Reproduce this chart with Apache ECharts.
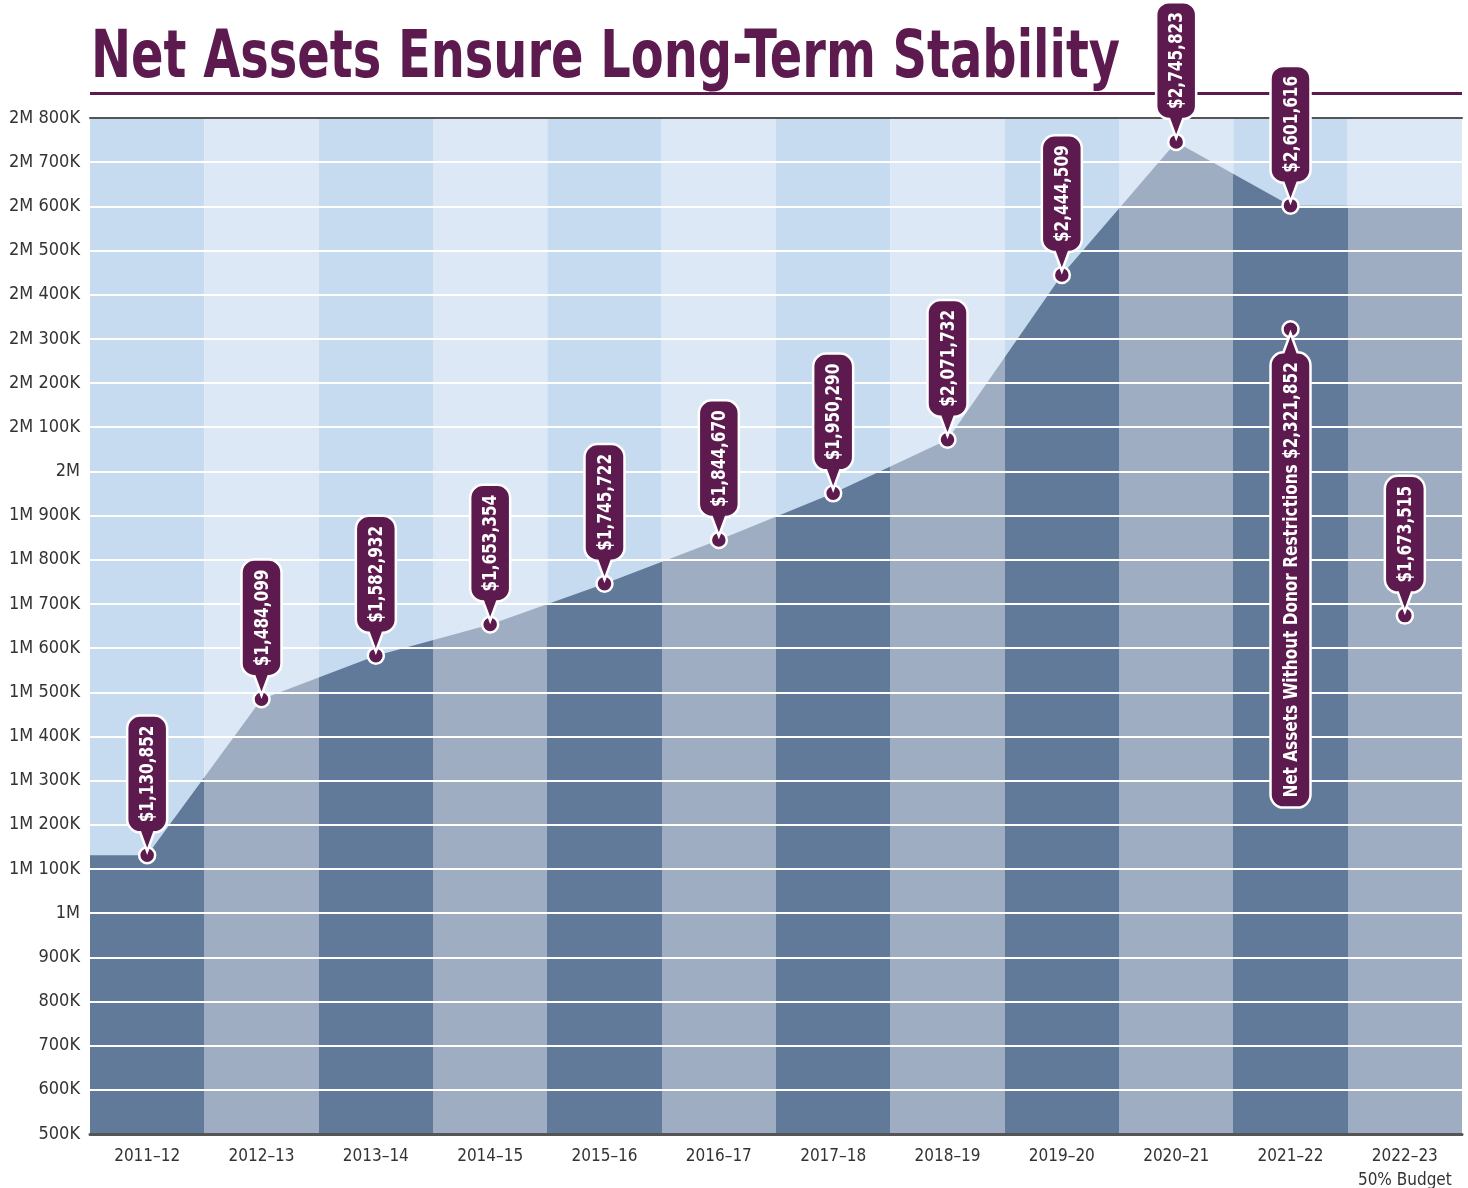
<!DOCTYPE html>
<html>
<head>
<meta charset="utf-8">
<script src="https://cdn.jsdelivr.net/npm/echarts@6/dist/echarts.min.js"></script>
<style>
    html, body { margin: 0; background: #fff; }
    #chart { width: 1468px; height: 1188px; }
</style>
</head>
<body>
<div id="chart"></div>
<script>
    const categories = ['2011–12', '2012–13', '2013–14', '2014–15', '2015–16', '2016–17',
        '2017–18', '2018–19', '2019–20', '2020–21', '2021–22', '2022–23\n50% Budget'];
    // net assets per fiscal year (last one is the 50% budget figure)
    const netAssets = [1130852, 1484099, 1582932, 1653354, 1745722, 1844670,
        1950290, 2071732, 2444509, 2745823, 2601616, 1673515];
    const unrestrictedIndex = 10;
    const unrestrictedValue = 2321852;
    const unrestrictedLabel = 'Net Assets Without Donor Restrictions';
    const yMin = 500000;
    const yMax = 2800000;
    const yStep = 100000;

    const PURPLE = '#5c1a4e';
    const NARROW = '"Liberation Sans Narrow", "DejaVu Sans Condensed", sans-serif';
    const pinFont = 'bold 20px ' + NARROW;
    const pinSquash = 0.85;

    function money(v) {
        return '$' + v.toLocaleString('en-US');
    }

    function yLabel(v) {
        const m = Math.floor(v / 1e6);
        const k = Math.round((v - m * 1e6) / 1000);
        if (!m) return k + 'K';
        return k ? m + 'M ' + k + 'K' : m + 'M';
    }

    const ctx = document.createElement('canvas').getContext('2d');
    function textLen(t) {
        ctx.font = pinFont;
        return ctx.measureText(t).width * pinSquash;
    }

    // area follows the actual years, held flat across the budget column
    const areaData = [[-0.5, netAssets[0]]];
    for (let i = 0; i <= unrestrictedIndex; i++) {
        areaData.push([i, netAssets[i]]);
    }
    areaData.push([categories.length - 0.5, netAssets[unrestrictedIndex]]);

    // [x, value, text, direction]  direction 1 = pointer below the label
    const pins = netAssets.map((v, i) => [i, v, money(v), 1]);
    pins.push([unrestrictedIndex, unrestrictedValue, unrestrictedLabel + ' ' + money(unrestrictedValue), -1]);

    const pieces = categories.map((c, i) => ({
        gte: i - 0.5,
        lt: i + 0.5,
        color: i % 2 ? '#9eadc1' : '#627a99'
    }));
    delete pieces[pieces.length - 1].lt;
    pieces[pieces.length - 1].lte = categories.length - 0.5;

    function renderPin(params, api) {
        const pin = pins[params.dataIndex];
        const p = api.coord([api.value(0), api.value(1)]);
        const dir = pin[3];
        const len = textLen(pin[2]) + 20;
        const bot = -23;
        const top = bot - len;
        const r = 13;
        const path = [
            'M -20 ' + (top + r),
            'A 13 13 0 0 1 -7 ' + top,
            'L 7 ' + top,
            'A 13 13 0 0 1 20 ' + (top + r),
            'L 20 ' + (bot - r),
            'A 13 13 0 0 1 7 ' + bot,
            'L 0 -4',
            'L -7 ' + bot,
            'A 13 13 0 0 1 -20 ' + (bot - r),
            'Z'
        ].join(' ');
        return {
            type: 'group',
            children: [{
                type: 'circle',
                shape: {cx: p[0], cy: p[1], r: 8},
                style: {fill: PURPLE, stroke: '#fff', lineWidth: 2.5}
            }, {
                type: 'path',
                x: p[0],
                y: p[1],
                scaleY: dir,
                shape: {pathData: path},
                style: {fill: PURPLE, stroke: '#fff', lineWidth: 2.5}
            }, {
                type: 'text',
                x: p[0] + 1,
                y: p[1] + dir * (bot - len / 2),
                rotation: Math.PI / 2,
                scaleX: pinSquash,
                style: {
                    text: pin[2],
                    fill: '#fff',
                    font: pinFont,
                    align: 'center',
                    verticalAlign: 'middle'
                }
            }]
        };
    }

    const chart = echarts.init(document.getElementById('chart'));
    chart.setOption({
        animation: false,
        backgroundColor: '#fff',
        graphic: [{
            type: 'text',
            x: 91,
            y: 27,
            scaleX: 0.807,
            z: 1,
            style: {
                text: 'Net Assets Ensure Long-Term Stability',
                font: 'bold 66px ' + NARROW,
                fill: PURPLE,
                verticalAlign: 'top'
            }
        }, {
            type: 'rect',
            z: 1,
            shape: {x: 90, y: 92, width: 1372, height: 3},
            style: {fill: PURPLE}
        }],
        grid: {left: 90, right: 6, top: 118, bottom: 54, outerBoundsMode: 'none'},
        visualMap: [{
            type: 'piecewise',
            show: false,
            dimension: 0,
            seriesIndex: 0,
            pieces: pieces
        }],
        xAxis: [{
            type: 'value',
            min: -0.5,
            max: categories.length - 0.5,
            interval: 1,
            axisLine: {show: false},
            axisTick: {show: false},
            axisLabel: {show: false},
            splitLine: {show: false},
            splitArea: {show: true, areaStyle: {color: ['#c6dbef', '#dce8f5'], opacity: 1}}
        }, {
            type: 'category',
            data: categories,
            position: 'bottom',
            z: 4,
            axisLine: {show: true, lineStyle: {color: '#555', width: 3}},
            axisTick: {show: false},
            axisLabel: {interval: 0, color: '#333', fontSize: 17, fontFamily: NARROW, margin: 11, lineHeight: 24}
        }, {
            type: 'category',
            data: categories,
            position: 'top',
            z: 4,
            axisLine: {show: true, lineStyle: {color: '#555', width: 2}},
            axisTick: {show: false},
            axisLabel: {show: false}
        }],
        yAxis: {
            type: 'value',
            min: yMin,
            max: yMax,
            interval: yStep,
            z: 3,
            axisLine: {show: false, onZero: false},
            axisTick: {show: false},
            axisLabel: {formatter: yLabel, color: '#333', fontSize: 18, fontFamily: NARROW, margin: 10},
            splitLine: {lineStyle: {color: '#fff', width: 2}}
        },
        series: [{
            type: 'line',
            xAxisIndex: 0,
            data: areaData,
            symbol: 'none',
            lineStyle: {width: 0},
            areaStyle: {opacity: 1},
            z: 2
        }, {
            type: 'custom',
            xAxisIndex: 0,
            data: pins.map(p => [p[0], p[1]]),
            renderItem: renderPin,
            clip: false,
            z: 5
        }]
    });
</script>
</body>
</html>
